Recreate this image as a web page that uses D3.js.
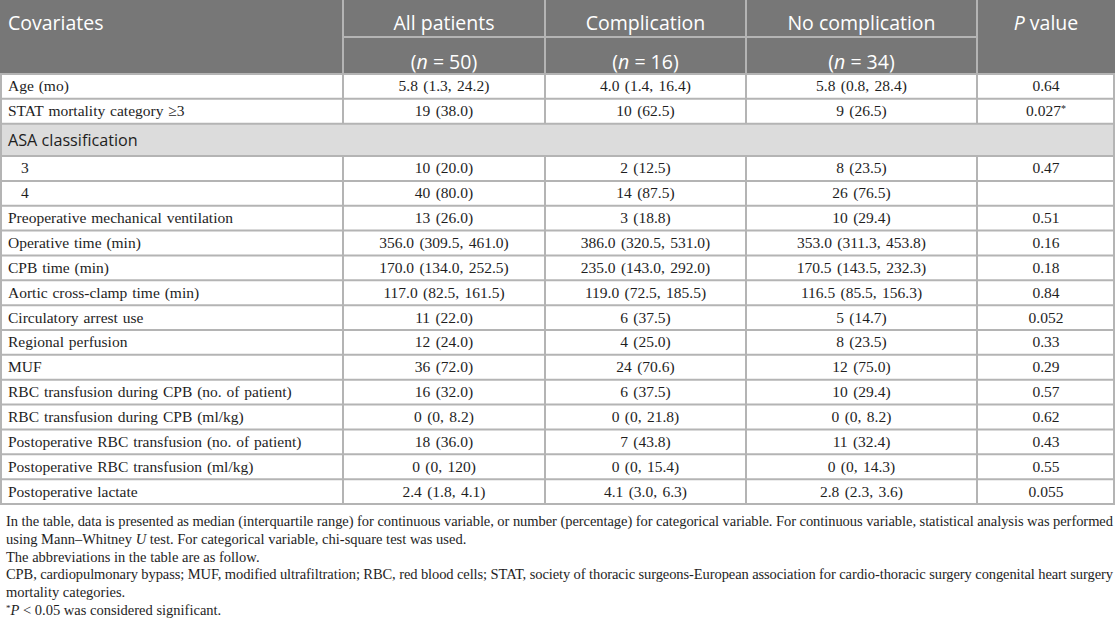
<!DOCTYPE html>
<html>
<head>
<meta charset="utf-8">
<script src="https://cdn.jsdelivr.net/npm/d3@7"></script>
<style>
body { margin: 0; background: #fff; }
</style>
</head>
<body>
<script>
// table content
var groups = ['All patients', 'Complication', 'No complication'];
var groupN = ['50', '16', '34'];

var covariates = [
  'Age (mo)',
  'STAT mortality category \u22653',
  'ASA classification',
  '3',
  '4',
  'Preoperative mechanical ventilation',
  'Operative time (min)',
  'CPB time (min)',
  'Aortic cross-clamp time (min)',
  'Circulatory arrest use',
  'Regional perfusion',
  'MUF',
  'RBC transfusion during CPB (no. of patient)',
  'RBC transfusion during CPB (ml/kg)',
  'Postoperative RBC transfusion (no. of patient)',
  'Postoperative RBC transfusion (ml/kg)',
  'Postoperative lactate'
];
var allPatients = ['5.8 (1.3, 24.2)', '19 (38.0)', null, '10 (20.0)', '40 (80.0)', '13 (26.0)',
  '356.0 (309.5, 461.0)', '170.0 (134.0, 252.5)', '117.0 (82.5, 161.5)', '11 (22.0)', '12 (24.0)',
  '36 (72.0)', '16 (32.0)', '0 (0, 8.2)', '18 (36.0)', '0 (0, 120)', '2.4 (1.8, 4.1)'];
var complication = ['4.0 (1.4, 16.4)', '10 (62.5)', null, '2 (12.5)', '14 (87.5)', '3 (18.8)',
  '386.0 (320.5, 531.0)', '235.0 (143.0, 292.0)', '119.0 (72.5, 185.5)', '6 (37.5)', '4 (25.0)',
  '24 (70.6)', '6 (37.5)', '0 (0, 21.8)', '7 (43.8)', '0 (0, 15.4)', '4.1 (3.0, 6.3)'];
var noComplication = ['5.8 (0.8, 28.4)', '9 (26.5)', null, '8 (23.5)', '26 (76.5)', '10 (29.4)',
  '353.0 (311.3, 453.8)', '170.5 (143.5, 232.3)', '116.5 (85.5, 156.3)', '5 (14.7)', '8 (23.5)',
  '12 (75.0)', '10 (29.4)', '0 (0, 8.2)', '11 (32.4)', '0 (0, 14.3)', '2.8 (2.3, 3.6)'];
var pValues = ['0.64', '0.027*', null, '0.47', '', '0.51', '0.16', '0.18', '0.84', '0.052', '0.33',
  '0.29', '0.57', '0.62', '0.43', '0.55', '0.055'];
var sectionRows = ['ASA classification'];
var indentRows = [3, 4];

var footnotes = [
  [['In the table, data is presented as median (interquartile range) for continuous variable, or number (percentage) for categorical variable. For continuous variable, statistical analysis was performed', '']],
  [['using Mann\u2013Whitney ', ''], ['U', 'i'], [' test. For categorical variable, chi-square test was used.', '']],
  [['The abbreviations in the table are as follow.', '']],
  [['CPB, cardiopulmonary bypass; MUF, modified ultrafiltration; RBC, red blood cells; STAT, society of thoracic surgeons-European association for cardio-thoracic surgery congenital heart surgery', '']],
  [['mortality categories.', '']],
  [['*', 's'], ['P', 'i'], [' < 0.05 was considered significant.', '']]
];
var justified = [0, 3];

var W = 1116, H = 635;
var sans = '"Open Sans", "Noto Sans", sans-serif';
var serif = '"Liberation Serif", "Times New Roman", serif';
var lineCol = '#b4b4b4';
var ink = '#1e1e1e';
var bodySize = 15.5;

var svg = d3.select('body').append('svg')
  .attr('width', W)
  .attr('height', H);

var colEdges = [0, 343, 545, 746, 977, 1115];
var x = d3.scaleOrdinal().domain(d3.range(5)).range(colEdges.slice(0, 5));
function colW(i) { return colEdges[i + 1] - colEdges[i]; }
function colMid(i) { return x(i) + colW(i) / 2; }

// rows: section row a bit taller
var units = covariates.map(function(c) { return sectionRows.indexOf(c) >= 0 ? 1.3 : 1; });
var cum = [0];
units.forEach(function(u, i) { cum.push(cum[i] + u); });
var y = d3.scaleLinear().domain([0, cum[cum.length - 1]]).range([74, 504]);

// header
var hdr = svg.append('g');
hdr.append('rect').attr('x', 0).attr('y', 0).attr('width', 1115).attr('height', 74).attr('fill', '#777777');
hdr.append('line').attr('x1', x(1)).attr('x2', x(4)).attr('y1', 37).attr('y2', 37)
  .attr('stroke', lineCol).attr('stroke-width', 2);
hdr.selectAll('.vl').data(d3.range(1, 5)).enter().append('line')
  .attr('x1', function(i) { return x(i); }).attr('x2', function(i) { return x(i); })
  .attr('y1', 0).attr('y2', 74).attr('stroke', lineCol).attr('stroke-width', 2);

var hs = 19.5;
hdr.append('text').attr('x', 8).attr('y', 30)
  .attr('font-family', sans).attr('font-size', hs).attr('fill', '#fff').text('Covariates');
hdr.selectAll('.g1').data(groups).enter().append('text')
  .attr('x', function(d, i) { return colMid(i + 1); }).attr('y', 30)
  .attr('text-anchor', 'middle').attr('font-family', sans).attr('font-size', hs).attr('fill', '#fff')
  .text(function(d) { return d; });
var nt = hdr.selectAll('.g2').data(groupN).enter().append('text')
  .attr('x', function(d, i) { return colMid(i + 1); }).attr('y', 69)
  .attr('text-anchor', 'middle').attr('font-family', sans).attr('font-size', hs).attr('fill', '#fff');
nt.append('tspan').text('(');
nt.append('tspan').attr('font-style', 'italic').text('n');
nt.append('tspan').text(function(d) { return ' = ' + d + ')'; });
var pt = hdr.append('text').attr('x', colMid(4)).attr('y', 30)
  .attr('text-anchor', 'middle').attr('font-family', sans).attr('font-size', hs).attr('fill', '#fff');
pt.append('tspan').attr('font-style', 'italic').text('P');
pt.append('tspan').text(' value');

// body
var body = svg.append('g');
var rows = body.selectAll('.row').data(covariates).enter().append('g')
  .attr('transform', function(d, i) { return 'translate(0,' + y(cum[i]) + ')'; });

rows.filter(function(d) { return sectionRows.indexOf(d) >= 0; })
  .append('rect').attr('x', 0).attr('y', 0).attr('width', 1115)
  .attr('height', function(d) { var i = covariates.indexOf(d); return y(cum[i + 1]) - y(cum[i]); })
  .attr('fill', '#dcdcdc');

rows.each(function(d, i) {
  var g = d3.select(this);
  var h = y(cum[i + 1]) - y(cum[i]);
  var isSec = sectionRows.indexOf(d) >= 0;
  if (isSec) {
    g.append('text').attr('x', 8).attr('y', h / 2 + 6)
      .attr('font-family', sans).attr('font-size', 16.2).attr('fill', ink).text(d);
    return;
  }
  g.append('text').attr('x', indentRows.indexOf(i) >= 0 ? 21 : 8).attr('y', h / 2 + 5)
    .attr('font-family', serif).attr('font-size', bodySize).attr('word-spacing', 1)
    .attr('fill', ink).text(d);
  [allPatients, complication, noComplication, pValues].forEach(function(arr, c) {
    var v = arr[i];
    if (!v) return;
    var t = g.append('text').attr('x', colMid(c + 1)).attr('y', h / 2 + 5)
      .attr('text-anchor', 'middle').attr('font-family', serif).attr('font-size', bodySize)
      .attr('word-spacing', 1.5).attr('fill', ink);
    if (v.slice(-1) === '*') {
      t.append('tspan').text(v.slice(0, -1));
      t.append('tspan').attr('font-size', 10).attr('dy', -4).text('*');
    } else {
      t.text(v);
    }
  });
  // vertical separators
  g.selectAll('.v').data(d3.range(1, 5)).enter().append('line')
    .attr('x1', function(c) { return x(c); }).attr('x2', function(c) { return x(c); })
    .attr('y1', 0).attr('y2', h).attr('stroke', lineCol).attr('stroke-width', 2);
});

// horizontal rules
body.selectAll('.hl').data(cum).enter().append('line')
  .attr('x1', 0).attr('x2', 1115)
  .attr('y1', function(d) { return y(d); }).attr('y2', function(d) { return y(d); })
  .attr('stroke', lineCol).attr('stroke-width', 2);
// outer sides
body.append('line').attr('x1', 1).attr('x2', 1).attr('y1', 74).attr('y2', 504)
  .attr('stroke', lineCol).attr('stroke-width', 2);
body.append('line').attr('x1', 1114).attr('x2', 1114).attr('y1', 74).attr('y2', 504)
  .attr('stroke', lineCol).attr('stroke-width', 2);

// footnotes
var fy = d3.scaleLinear().domain([0, footnotes.length - 1]).range([526, 615]);
svg.selectAll('.fn').data(footnotes).enter().append('text')
  .attr('x', 6).attr('y', function(d, i) { return fy(i); })
  .attr('font-family', serif).attr('font-size', 14.5).attr('fill', ink)
  .each(function(parts, i) {
    var t = d3.select(this);
    if (justified.indexOf(i) >= 0) t.attr('textLength', 1107).attr('lengthAdjust', 'spacing');
    parts.forEach(function(p) {
      var s = t.append('tspan').text(p[0]);
      if (p[1] === 'i') s.attr('font-style', 'italic');
      if (p[1] === 's') s.attr('font-size', 9).attr('baseline-shift', '4');
    });
  });
</script>
</body>
</html>
